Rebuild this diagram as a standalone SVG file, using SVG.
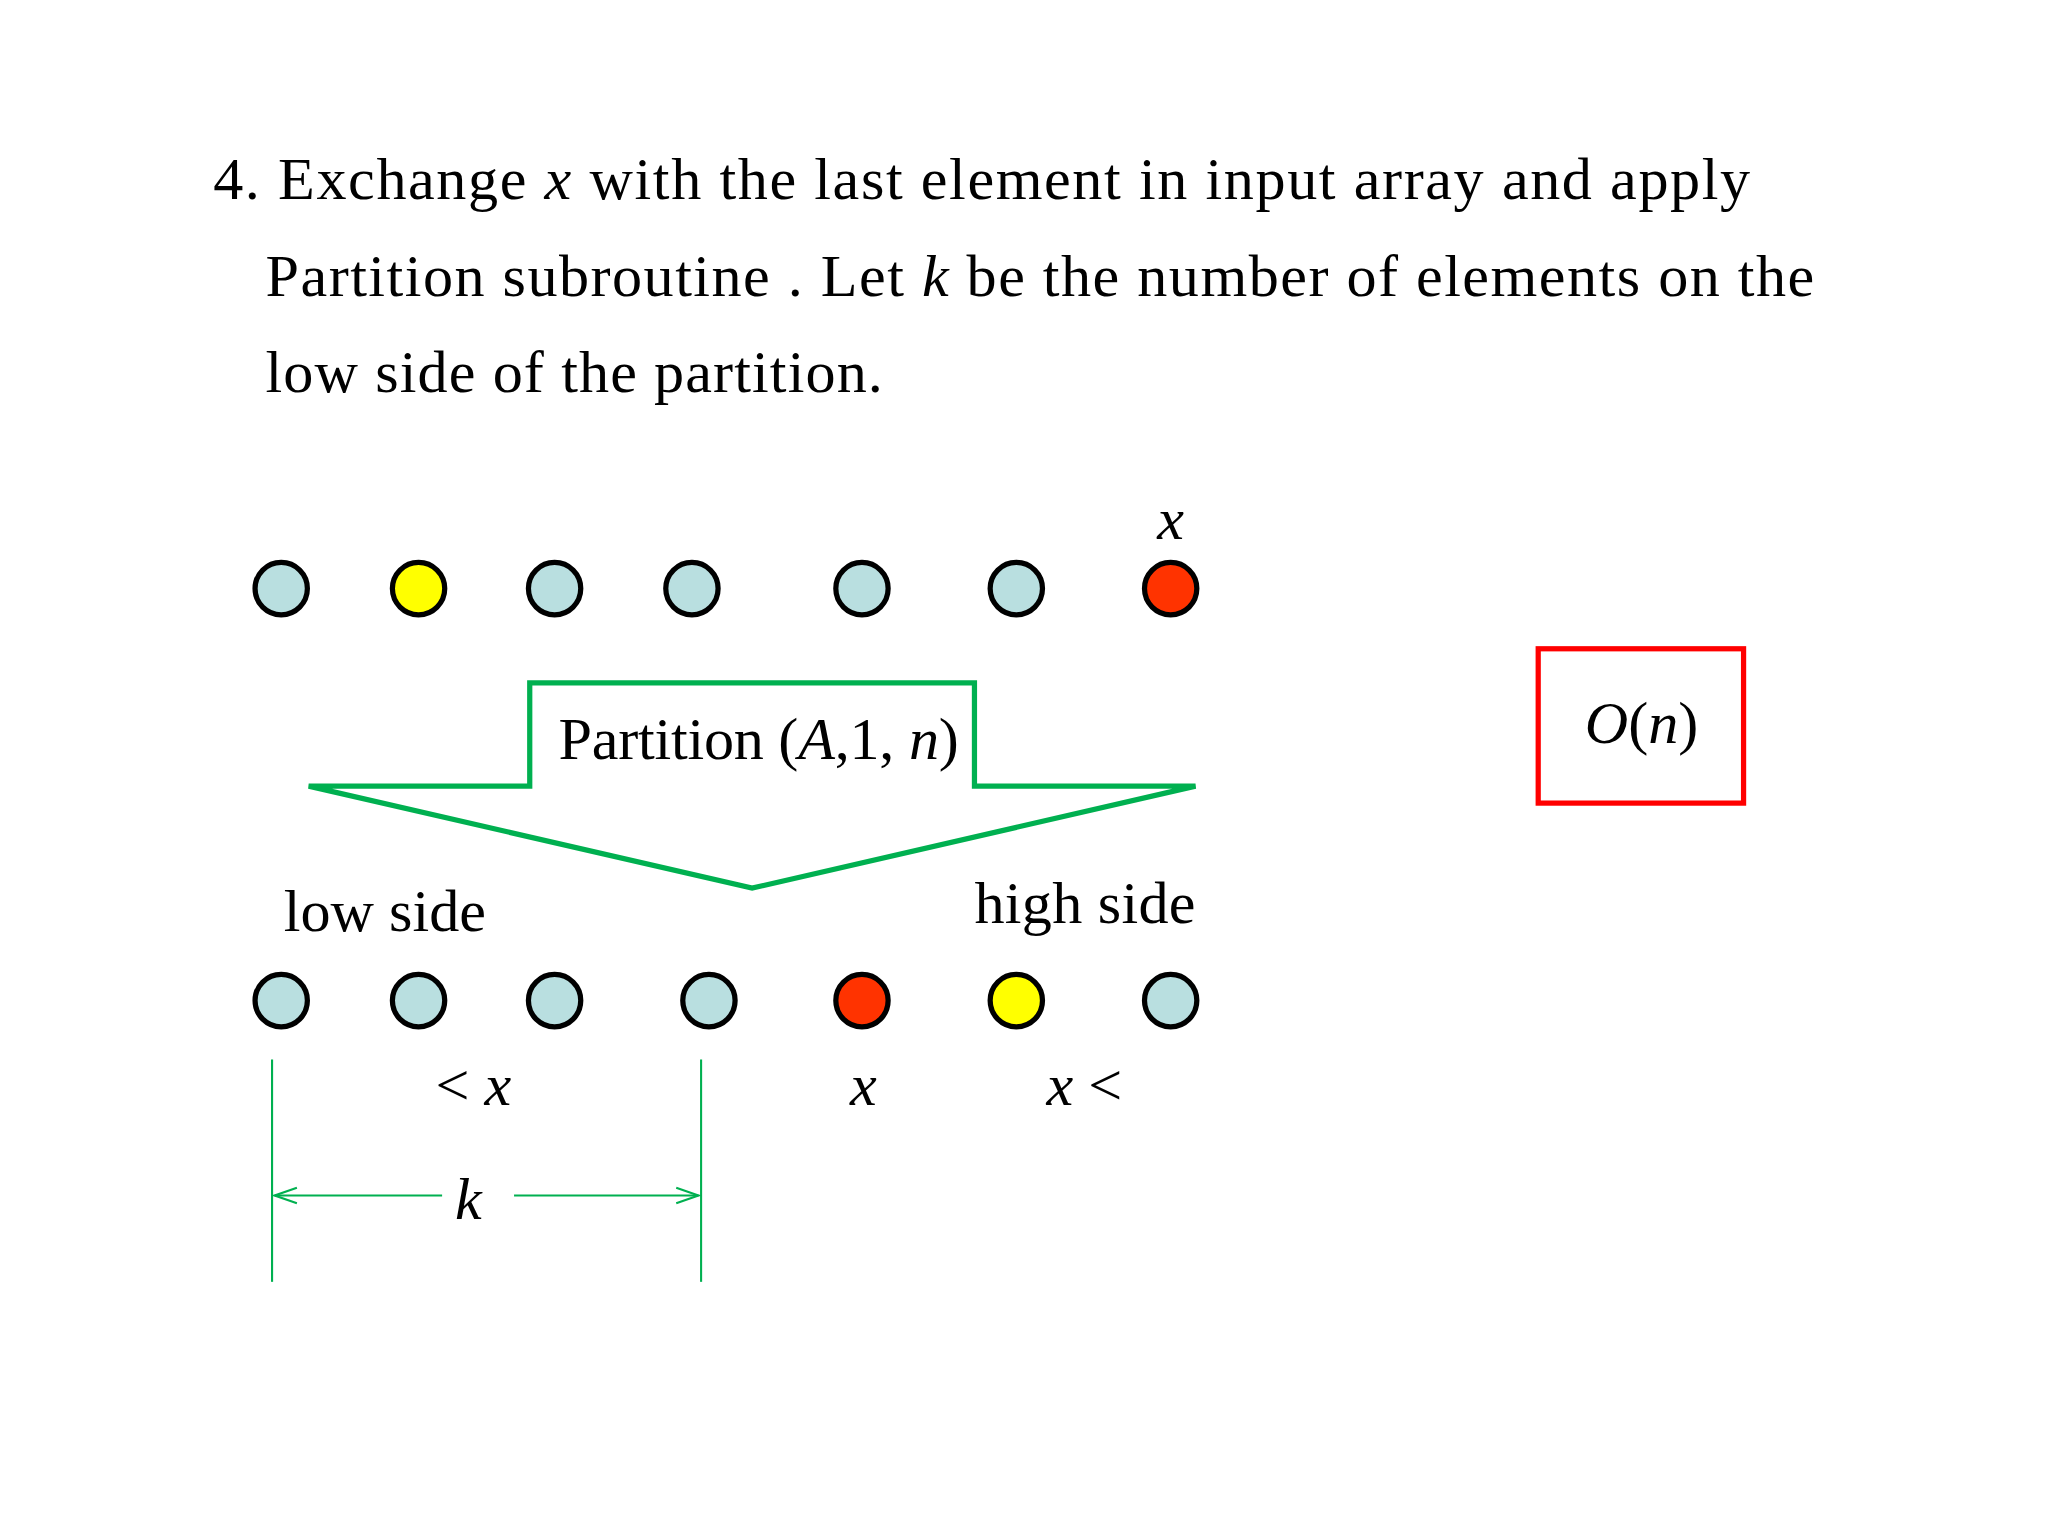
<svg xmlns="http://www.w3.org/2000/svg" width="2048" height="1536" viewBox="0 0 2048 1536">
<style>
text{font-family:"Liberation Serif",serif;fill:#000}
.t{font-size:46px}
.i{font-style:italic}
.c{stroke:#000;stroke-width:4}
.b{fill:#b9dfe0}.y{fill:#ffff00}.r{fill:#ff3300}
.g{stroke:#00b050;stroke-width:1.6;fill:none}
</style>
<defs><marker id="ah" markerWidth="20" markerHeight="14" refX="18" refY="7" orient="auto" markerUnits="userSpaceOnUse"><path d="M1,1 L18,7 L1,13" fill="none" stroke="#00b050" stroke-width="1.6"/></marker></defs>
<rect width="2048" height="1536" fill="#fff"/>
<g transform="scale(1.308)">
<g id="title">
<text class="t" x="163" y="152" textLength="1175" lengthAdjust="spacing">4. Exchange  <tspan class="i">x</tspan> with the  last element  in input  array and apply</text>
<text class="t" x="203" y="226" textLength="1184" lengthAdjust="spacing">Partition  subroutine . Let <tspan class="i">k</tspan> be the number  of elements  on the</text>
<text class="t" x="203" y="300" textLength="472" lengthAdjust="spacing">low side of  the partition.</text>
</g>
<g id="top-row">
<circle class="c b" cx="215" cy="450" r="20"/><circle class="c y" cx="320" cy="450" r="20"/>
<circle class="c b" cx="424" cy="450" r="20"/><circle class="c b" cx="529" cy="450" r="20"/>
<circle class="c b" cx="659" cy="450" r="20"/><circle class="c b" cx="777" cy="450" r="20"/>
<circle class="c r" cx="895" cy="450" r="20"/>
<text class="t i" x="895" y="412" text-anchor="middle">x</text>
</g>
<g id="partition-arrow">
<polygon points="405,522 745,522 745,601 914,601 575,679 236,601 405,601" fill="none" stroke="#00b050" stroke-width="4"/>
<text class="t" x="427" y="580" textLength="306" lengthAdjust="spacing">Partition (<tspan class="i">A</tspan>,1, <tspan class="i">n</tspan>)</text>
</g>
<g id="cost">
<rect x="1176" y="496" width="157" height="118" fill="none" stroke="#ff0000" stroke-width="4"/>
<text class="t i" x="1255" y="568" text-anchor="middle">O<tspan font-style="normal">(</tspan>n<tspan font-style="normal">)</tspan></text>
</g>
<g id="bottom-row">
<text class="t" x="217" y="712">low side</text>
<text class="t" x="745" y="706" textLength="169" lengthAdjust="spacing">high  side</text>
<circle class="c b" cx="215" cy="765" r="20"/><circle class="c b" cx="320" cy="765" r="20"/>
<circle class="c b" cx="424" cy="765" r="20"/><circle class="c b" cx="542" cy="765" r="20"/>
<circle class="c r" cx="659" cy="765" r="20"/><circle class="c y" cx="777" cy="765" r="20"/>
<circle class="c b" cx="895" cy="765" r="20"/>
<text class="t" x="333" y="845">&lt; <tspan class="i">x</tspan></text>
<text class="t i" x="660" y="845" text-anchor="middle">x</text>
<text class="t" x="800" y="845"><tspan class="i">x</tspan> &lt;</text>
</g>
<g id="connectors">
<line class="g" x1="208" y1="810" x2="208" y2="980"/>
<line class="g" x1="536" y1="810" x2="536" y2="980"/>
<line class="g" x1="338" y1="914" x2="210" y2="914" marker-end="url(#ah)"/>
<line class="g" x1="393" y1="914" x2="534" y2="914" marker-end="url(#ah)"/>
</g>
<text class="t i" x="358" y="932" text-anchor="middle">k</text>
</g>
</svg>
